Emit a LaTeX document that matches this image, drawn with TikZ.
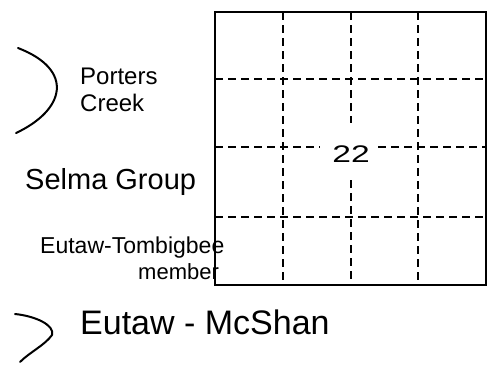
\documentclass[tikz,border=0pt]{standalone}
\usepackage{fontspec}
\setmainfont{Liberation Sans}
\begin{document}
\begin{tikzpicture}[x=1pt,y=-1pt,
  lbl/.style={inner sep=0pt,anchor=west},
  grid/.style={line width=1.4pt,dash pattern=on 8pt off 5pt},
  frame/.style={line width=2.4pt},
  brace/.style={line width=2pt,line cap=round}]
\useasboundingbox (0,0) rectangle (492,365);
% frame
\coordinate (tl) at (215,12);
\coordinate (br) at (486,285);
\draw[frame] (tl) rectangle (br);
% grid
\draw[grid] (283,12) -- (283,285);
\draw[grid] (418,12) -- (418,285);
\draw[grid] (351,12) -- (351,123);
\draw[grid] (351,180) -- (351,285);
\draw[grid] (215,79) -- (486,79);
\draw[grid] (215,217) -- (486,217);
\draw[grid] (215,147) -- (320,147);
\draw[grid] (378,147) -- (486,147);
\node[inner sep=0pt,xscale=1.4,font=\fontsize{24}{26}\selectfont] (num) at (351,154) {22};
% labels
\node[lbl,align=left,font=\fontsize{24}{27}\selectfont] (pc) at (80,90) {Porters\\Creek};
\node[lbl,font=\fontsize{29}{31}\selectfont] (sg) at (25,182) {Selma Group};
\node[lbl,font=\fontsize{23}{25}\selectfont] (et) at (40,248) {Eutaw-Tombigbee};
\node[lbl,font=\fontsize{22}{24}\selectfont] (mb) at (138,272) {member};
\node[lbl,font=\fontsize{34}{36}\selectfont] (em) at (80,322) {Eutaw - McShan};
% braces
\draw[brace] (18,48) .. controls (75,70) and (65,110) .. (16,133);
\draw[brace] (15,314) .. controls (35,316) and (55,325) .. (52,335) .. controls (45,345) and (30,352) .. (20,362);
\end{tikzpicture}
\end{document}
